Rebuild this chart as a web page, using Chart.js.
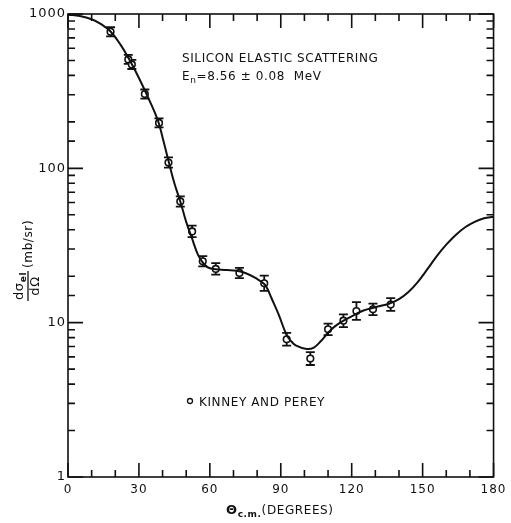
<!DOCTYPE html>
<html>
<head>
<meta charset="utf-8">
<script src="https://cdn.jsdelivr.net/npm/chart.js@4/dist/chart.umd.min.js"></script>
<style>
  html, body { margin: 0; padding: 0; background: #fff; }
  #wrap { width: 511px; height: 523px; position: relative; }
</style>
</head>
<body>
<div id="wrap"><canvas id="xsec"></canvas></div>
<script>
// measured differential cross sections (Kinney and Perey)
const angles = [18, 25.5, 27, 32.5, 38.5, 42.5, 47.5, 52.5, 57, 62.5, 72.5, 83, 92.5, 102.5, 110, 116.5, 122, 129, 136.5];
const sigma  = [767, 508, 471, 303, 197, 109, 61, 39, 25, 22.3, 21, 18, 7.8, 5.85, 9.05, 10.3, 11.9, 12.2, 13.1];
const errPct = [7, 7, 7, 7, 7, 8, 8, 9, 8, 9, 8, 12, 10, 10, 9, 10, 14, 9, 10];

// smooth model curve
const fitAngles = [0, 5, 10, 14, 18, 22, 26, 30, 34, 38, 40.3, 42.5, 45, 47.5, 50, 52.5, 55, 57.5, 60, 65, 70, 75, 80, 83, 84.5, 86, 89, 92.5, 94.5, 96.5, 101, 104, 107, 110, 113, 117, 121, 125, 130, 136, 140, 144, 148, 152, 156, 160, 164, 168, 172, 176, 180];
const fitSigma  = [990, 970, 925, 860, 770, 640, 505, 385, 285, 205, 152, 112, 80, 61, 45, 35, 27.5, 24, 22.5, 22, 21.8, 21, 19.2, 17.8, 16.4, 14.5, 11.4, 8.3, 7.55, 7.1, 6.75, 6.9, 7.6, 8.6, 9.5, 10.4, 11.2, 12, 12.6, 13.3, 14.2, 15.8, 18.4, 22.2, 27, 32, 37, 41.5, 45, 47.5, 48.5];

const xLabels = [0, 30, 60, 90, 120, 150, 180];
const yLabels = [1, 10, 100, 1000];

const FONT = '"DejaVu Sans", sans-serif';
const INK = '#111';

// wider lettering for the tick numbers
const spacing = {
  id: 'spacing',
  beforeDraw(chart) { chart.ctx.letterSpacing = '1px'; }
};

// inward ticks on all four sides plus the frame
const frameTicks = {
  id: 'frameTicks',
  afterDatasetsDraw(chart) {
    const { ctx, chartArea: { left, right, top, bottom }, scales: { x, y } } = chart;
    ctx.save();
    ctx.strokeStyle = INK;
    ctx.lineWidth = 1.6;
    ctx.strokeRect(left, top, right - left, bottom - top);
    ctx.beginPath();
    x.ticks.forEach(t => {
      const px = x.getPixelForValue(t.value);
      const len = t.value % 30 === 0 ? 14 : 7;
      ctx.moveTo(px, bottom); ctx.lineTo(px, bottom - len);
      ctx.moveTo(px, top); ctx.lineTo(px, top + len);
    });
    y.ticks.forEach(t => {
      const py = y.getPixelForValue(t.value);
      const len = yLabels.includes(t.value) ? 15 : 7;
      ctx.moveTo(left, py); ctx.lineTo(left + len, py);
      ctx.moveTo(right, py); ctx.lineTo(right - len, py);
    });
    ctx.stroke();
    ctx.restore();
  }
};

// error bars with caps for the measured points
const errorBars = {
  id: 'errorBars',
  beforeDatasetsDraw(chart) {
    const { ctx, scales: { x, y } } = chart;
    ctx.save();
    ctx.strokeStyle = INK;
    ctx.lineWidth = 1.8;
    ctx.beginPath();
    angles.forEach((a, i) => {
      const px = x.getPixelForValue(a);
      const hi = y.getPixelForValue(sigma[i] * (1 + errPct[i] / 100));
      const lo = y.getPixelForValue(sigma[i] / (1 + errPct[i] / 100));
      ctx.moveTo(px, hi); ctx.lineTo(px, lo);
      ctx.moveTo(px - 4.5, hi); ctx.lineTo(px + 4.5, hi);
      ctx.moveTo(px - 4.5, lo); ctx.lineTo(px + 4.5, lo);
    });
    ctx.stroke();
    ctx.restore();
  }
};

function textWithSub(ctx, parts, x, y) {
  // parts: [text, isSub, bold, size]
  let cx = x;
  parts.forEach(([s, sub, bold, size]) => {
    const fs = size || (sub ? 9 : 12);
    ctx.font = (bold ? 'bold ' : '') + fs + 'px ' + FONT;
    ctx.fillText(s, cx, sub ? y + 3 : y);
    cx += ctx.measureText(s).width;
  });
  return cx;
}

const labels = {
  id: 'labels',
  afterDraw(chart) {
    const { ctx } = chart;
    ctx.save();
    ctx.fillStyle = INK;
    ctx.textBaseline = 'alphabetic';
    ctx.textAlign = 'left';
    ctx.letterSpacing = '0.6px';
    ctx.font = '12px ' + FONT;
    ctx.fillText('SILICON ELASTIC SCATTERING', 182, 62);
    textWithSub(ctx, [['E', false], ['n', true], ['=8.56 \u00b1 0.08  MeV', false]], 182, 80);

    // legend
    ctx.lineWidth = 1.3;
    ctx.strokeStyle = INK;
    ctx.beginPath();
    ctx.arc(190, 401, 2.5, 0, Math.PI * 2);
    ctx.stroke();
    ctx.font = '12px ' + FONT;
    ctx.fillText('KINNEY AND PEREY', 199, 406);

    // x axis title
    textWithSub(ctx, [['\u0398', false, true, 13], ['c.m.', true, true, 9], ['(DEGREES)', false, false, 12]], 226, 514);

    // y axis title, rotated
    ctx.translate(28, 300);
    ctx.rotate(-Math.PI / 2);
    ctx.textAlign = 'left';
    const numEnd = textWithSub(ctx, [['d\u03c3', false, false, 13], ['el', true, true, 9]], 0, -5);
    ctx.font = '13px ' + FONT;
    const dW = ctx.measureText('d\u03a9').width;
    ctx.fillText('d\u03a9', (numEnd - dW) / 2, 11);
    ctx.lineWidth = 1.3;
    ctx.beginPath();
    ctx.moveTo(-1, 0); ctx.lineTo(numEnd + 1, 0);
    ctx.stroke();
    ctx.font = '12px ' + FONT;
    ctx.fillText('(mb/sr)', numEnd + 4, 4);
    ctx.restore();
  }
};

new Chart(document.getElementById('xsec'), {
  type: 'scatter',
  data: {
    datasets: [
      {
        data: fitAngles.map((a, i) => ({ x: a, y: fitSigma[i] })),
        showLine: true,
        borderColor: INK,
        borderWidth: 2,
        pointRadius: 0,
        tension: 0.4
      },
      {
        data: angles.map((a, i) => ({ x: a, y: sigma[i] })),
        pointRadius: 3.3,
        pointBorderWidth: 1.6,
        pointBorderColor: INK,
        pointBackgroundColor: '#fff'
      }
    ]
  },
  options: {
    responsive: true,
    maintainAspectRatio: false,
    animation: false,
    layout: { padding: { top: 14, right: 17, left: 0, bottom: 0 } },
    plugins: { legend: { display: false }, tooltip: { enabled: false } },
    scales: {
      x: {
        type: 'linear',
        min: 0, max: 180,
        afterFit: s => { s.height = 46; },
        grid: { display: false, drawTicks: false },
        border: { display: false },
        ticks: {
          stepSize: 10,
          autoSkip: false,
          maxRotation: 0,
          padding: 6,
          color: INK,
          font: { family: FONT, size: 12 },
          callback: v => xLabels.includes(v) ? String(v) : ''
        }
      },
      y: {
        type: 'logarithmic',
        min: 1, max: 1000,
        afterFit: s => { s.width = 68; },
        grid: { display: false, drawTicks: false },
        border: { display: false },
        ticks: {
          autoSkip: false,
          padding: 2,
          color: INK,
          font: { family: FONT, size: 13 },
          callback: v => yLabels.includes(v) ? String(v) : ''
        }
      }
    }
  },
  plugins: [spacing, errorBars, frameTicks, labels]
});
</script>
</body>
</html>
